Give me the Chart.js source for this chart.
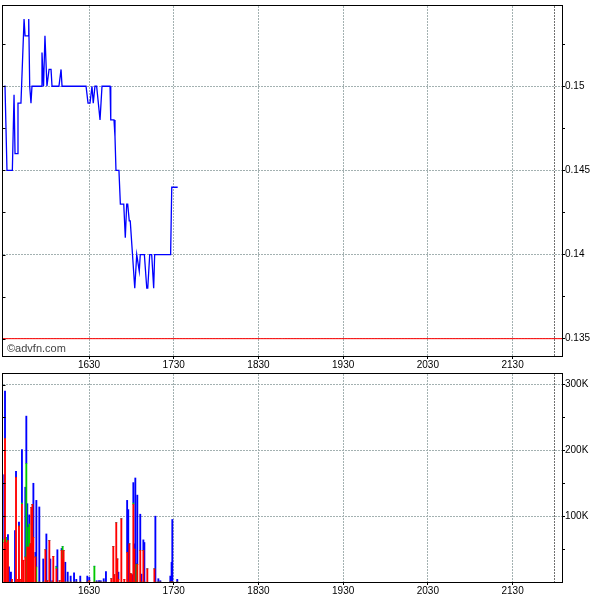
<!DOCTYPE html>
<html><head><meta charset="utf-8">
<script src="https://cdn.jsdelivr.net/npm/chart.js@4/dist/chart.umd.min.js"></script>
<style>
html,body{margin:0;padding:0;background:#fff;}
#wrap{position:relative;width:600px;height:600px;overflow:hidden;}
#top{position:absolute;left:0;top:0;}
#bot{position:absolute;left:0;top:368px;}
#copy{position:absolute;left:7px;top:343px;font:11px 'Liberation Sans',Arial,sans-serif;line-height:1;color:#444;}
</style></head><body>
<div id="wrap">
<canvas id="top" width="600" height="372"></canvas>
<canvas id="bot" width="600" height="232"></canvas>
<div id="copy">©advfn.com</div>
</div>
<script>
// time axis: minutes after 15:30
const priceTimes = [0,0.5,1.9,5.7,6.9,7.6,9.0,9.7,11.8,14.0,14.7,16.8,17.3,18.0,18.9,19.6,26.0,26.7,27.8,28.8,30.2,31.7,33.1,33.8,38.7,40.2,40.9,57.9,59.3,60.7,62.1,63.0,64.2,65.4,67.8,69.2,74.9,75.4,77.7,78.4,79.1,81.2,82.2,84.6,85.7,86.7,87.4,88.5,89.2,92.4,93.8,95.6,96.3,99.2,100.9,101.6,103.0,104.4,105.8,106.5,117.8,118.6,122.8];
const priceValues = [0.150,0.150,0.145,0.145,0.1495,0.146,0.146,0.149,0.149,0.154,0.153,0.153,0.154,0.150,0.149,0.150,0.150,0.152,0.150,0.153,0.150,0.151,0.151,0.150,0.150,0.151,0.150,0.150,0.149,0.149,0.150,0.149,0.150,0.150,0.148,0.150,0.150,0.148,0.148,0.147,0.145,0.145,0.143,0.143,0.141,0.143,0.143,0.142,0.142,0.138,0.140,0.139,0.140,0.140,0.138,0.138,0.140,0.140,0.138,0.140,0.140,0.144,0.144];
const previousClose = 0.135;

const volTimes = [0,0.5,1.2,2.6,3.3,4.7,5.4,7.6,8.3,9.7,
  10.4,11.1,12.5,13.5,14.9,15.6,16.3,17.0,17.7,18.4,
  19.1,19.9,20.6,22.0,22.7,24.8,27.6,29.1,29.8,30.5,
  31.9,32.6,34.0,34.7,36.9,37.6,39.2,40.6,41.3,42.0,
  43.2,44.9,47.0,49.4,51.0,53.8,58.8,60.2,63.8,65.4,
  67.1,68.3,70.4,72.0,75.8,77.2,77.9,79.3,80.1,80.8,
  82.9,85.0,87.0,87.8,88.6,89.3,90.0,90.7,91.4,92.1,
  92.8,93.5,94.2,96.3,97.1,98.5,99.2,101.3,106.3,107.0,
  109.1,110.5,117.6,118.5,119.0,122.5];
// volumes in thousands of shares
const volRedK = [60,218,60,63,0,0,4,0,159,4,
  85,4,118,33,38,0,53,53,53,58,
  113,118,68,38,0,0,0,49,0,2,
  63,0,0,39,20,0,2,48,35,48,
  0,0,0,0,0,0,0,2,0,0,
  0,0,0,0,5,54,11,90,35,4,
  96,4,45,0,58,13,12,0,118,50,
  0,0,27,48,0,48,0,20,20,0,
  0,0,0,0,0,0];
const volGreenK = [5,0,8,0,0,0,0,0,0,0,
  0,0,2,0,0,180,0,30,35,0,
  0,0,0,0,23,0,0,0,0,0,
  0,0,0,0,3,0,0,0,19,0,
  0,0,0,0,0,0,0,0,24,0,
  0,0,0,0,0,0,0,0,0,0,
  0,0,0,0,0,0,0,0,2,0,
  0,27,0,0,0,0,0,0,0,0,
  0,0,0,0,0,0];
const volBlueK = [98,72,0,9,23,15,0,78,9,0,
  6,0,81,0,106,72,66,4,14,0,
  0,0,82,7,101,114,35,0,73,0,
  0,35,2,0,1,49,0,3,0,0,
  30,15,9,14,4,9,9,5,0,2,
  2,2,5,16,0,0,0,0,0,11,
  0,0,79,110,0,0,0,11,31,8,
  158,1,105,55,12,16,60,0,0,100,
  5,2,9,30,95,4];

const timeTickMinutes = [60,120,180,240,300,360];
const timeTickLabels = ['1630','1730','1830','1930','2030','2130'];
const sessionEndMinute = 390;
const timeMin = -0.92, timeMax = 395;

const priceTicks = [0.135,0.14,0.145,0.15];
const priceTickLabels = ['0.135','0.14','0.145','0.15'];
const priceMinorTicks = [0.1375,0.1425,0.1475,0.1525];
const volumeTicks = [100000,200000,300000];
const volumeTickLabels = ['100K','200K','300K'];
const volumeMinorTicks = [50000,150000,250000];

const tickFont = {family:"'Liberation Sans Narrow','Liberation Sans',Arial,sans-serif", size:10};
const gridColor = '#a3b1b1';
const endColor = '#707070';

function framePlugin(id){
  return {id, afterDraw(chart){
    const {ctx, chartArea:a} = chart;
    const ys = chart.scales.y;
    ctx.save();
    ctx.strokeStyle = '#000'; ctx.lineWidth = 1;
    const l = Math.round(a.left)-0.5, t = Math.round(a.top)-0.5;
    const r = Math.round(a.right)+0.5, b = Math.round(a.bottom)+0.5;
    ctx.strokeRect(l, t, r-l, b-t);
    ctx.beginPath();
    ys.ticks.forEach(tk=>{
      const p = Math.round(ys.getPixelForValue(tk.value))+0.5;
      ctx.moveTo(l, p); ctx.lineTo(l+3, p);
    });
    ctx.stroke();
    ctx.restore();
  }};
}

function xScale(height){
  return {
    type:'linear', min:timeMin, max:timeMax, offset:false,
    afterBuildTicks(s){ s.ticks = [...timeTickMinutes, sessionEndMinute].map(v=>({value:v})); },
    afterFit(s){ s.height = height; },
    ticks:{autoSkip:false, maxRotation:0, padding:0, font:tickFont, color:'#000',
      callback(v){ const i = timeTickMinutes.indexOf(v); return i>=0 ? timeTickLabels[i] : ''; }},
    grid:{offset:false, color:c=> (c.tick && c.tick.value===sessionEndMinute) ? endColor : gridColor,
      tickColor:c=> (c.tick && c.tick.value===sessionEndMinute) ? 'rgba(0,0,0,0)' : '#000',
      tickLength:3, lineWidth:1},
    border:{display:false, dash:[2,1]}
  };
}

function yScale(min, max, major, labels, minor){
  return {
    position:'right', min, max,
    afterBuildTicks(s){ s.ticks = [...major, ...minor].sort((a,b)=>a-b).map(v=>({value:v})); },
    afterFit(s){ s.width = 38; },
    ticks:{autoSkip:false, padding:0, font:tickFont, color:'#000',
      callback(v){ const i = major.findIndex(m=>Math.abs(m-v)<1e-9); return i>=0 ? labels[i] : ''; }},
    grid:{color:c=> (c.tick && major.some(m=>Math.abs(m-c.tick.value)<1e-9)) ? gridColor : 'rgba(0,0,0,0)',
      tickColor:'#000', tickLength:3, lineWidth:1},
    border:{display:false, dash:[2,1]}
  };
}

new Chart(document.getElementById('top'), {
  type:'line',
  data:{datasets:[
    {data: priceTimes.map((t,i)=>({x:t, y:priceValues[i]})), borderColor:'#0000ff', borderWidth:1.3,
     pointRadius:0, tension:0, fill:false, order:0},
    {data: [{x:timeMin, y:previousClose},{x:timeMax, y:previousClose}], borderColor:'#ff0000', borderWidth:1,
     pointRadius:0, fill:false, order:1}
  ]},
  options:{responsive:false, animation:false, events:[],
    layout:{padding:{left:3, top:3, right:0, bottom:0}},
    plugins:{legend:{display:false}, tooltip:{enabled:false}},
    scales:{ x:xScale(16), y:yScale(0.13397, 0.15477, priceTicks, priceTickLabels, priceMinorTicks) }
  },
  plugins:[framePlugin('frameTop')]
});

const barSet = (arr, color) => ({
  data: volTimes.map((t,i)=>({x:t, y:arr[i]*1000})),
  backgroundColor: color, borderWidth:0, barThickness:1.2
});

new Chart(document.getElementById('bot'), {
  type:'bar',
  data:{datasets:[ barSet(volRedK,'#ff0000'), barSet(volGreenK,'#00c800'), barSet(volBlueK,'#0000ff') ]},
  options:{responsive:false, animation:false, events:[],
    layout:{padding:{left:3, top:3, right:0, bottom:0}},
    plugins:{legend:{display:false}, tooltip:{enabled:false}},
    scales:{
      x:Object.assign(xScale(18), {stacked:true}),
      y:Object.assign(yScale(0, 316000, volumeTicks, volumeTickLabels, volumeMinorTicks), {stacked:true})
    }
  },
  plugins:[framePlugin('frameBot')]
});
</script>
</body></html>
